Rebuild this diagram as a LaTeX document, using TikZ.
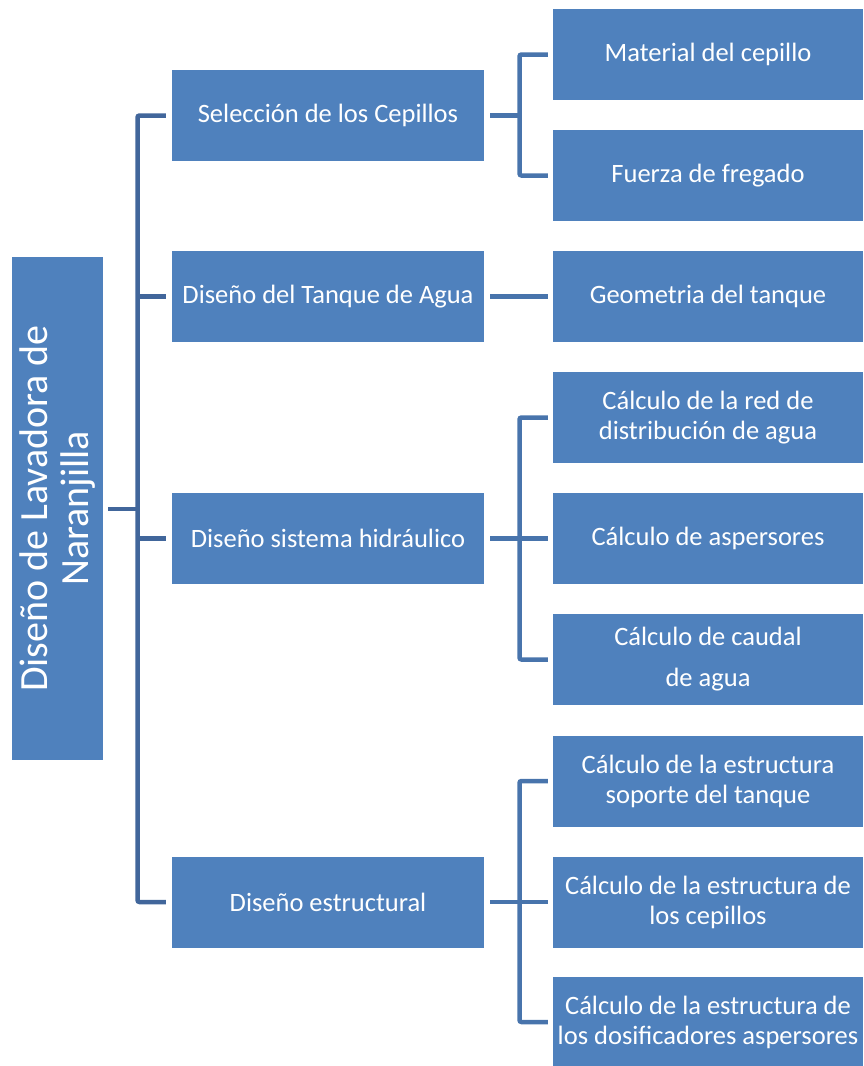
\documentclass[tikz,border=0pt]{standalone}
\usepackage{fontspec}
\setmainfont{Carlito}
\begin{document}
\begin{tikzpicture}[x=1pt,y=-1pt,
  box/.style={fill=boxblue,draw=none,text=white,align=center,inner sep=0pt,font=\fontsize{26.5}{30}\selectfont},
  lone/.style={box,minimum width=312,minimum height=91},
  ltwo/.style={box,minimum width=310,minimum height=91},
  conn/.style={draw=connA,line width=4.5pt,rounded corners=2pt},
  connb/.style={draw=connB,line width=4.5pt,rounded corners=2pt}]
\definecolor{boxblue}{HTML}{4F81BD}
\definecolor{connA}{HTML}{41669B}
\definecolor{connB}{HTML}{4874AC}
\useasboundingbox (0,0) rectangle (863,1066);
\node[box,minimum width=503,minimum height=91,rotate=90,font=\fontsize{40}{41}\selectfont] (root) at (57.5,508.5) {Diseño de Lavadora de\\Naranjilla};
\node[lone] (a) at (328,115.5) {Selección de los Cepillos};
\node[lone] (b) at (328,296.5) {Diseño del Tanque de Agua};
\node[lone] (c) at (328,538.5) {Diseño sistema hidráulico};
\node[lone] (d) at (328,902) {Diseño estructural};
\node[ltwo] (a1) at (708,54.5) {Material del cepillo};
\node[ltwo] (a2) at (708,175.5) {Fuerza de fregado};
\node[ltwo] (b1) at (708,296.5) {Geometria del tanque};
\node[ltwo] (c1) at (708,417.5) {Cálculo de la red de\\distribución de agua};
\node[ltwo] (c2) at (708,538.5) {Cálculo de aspersores};
\node[ltwo,font=\fontsize{26.5}{41}\selectfont] (c3) at (708,659.5) {Cálculo de caudal\\de agua};
\node[ltwo] (d1) at (708,781) {Cálculo de la estructura\\soporte del tanque};
\node[ltwo] (d2) at (708,902) {Cálculo de la estructura de\\los cepillos};
\node[ltwo] (d3) at (708,1022) {Cálculo de la estructura de\\los dosificadores aspersores};
% level 0 -> level 1
\coordinate (t) at (137.5,509);
\draw[conn] ([xshift=5]root.south |- t) -- (t);
\draw[conn] ([xshift=-6]a.west) -- (t |- a.west) -- (t |- d.west) -- ([xshift=-6]d.west);
\draw[conn] (t |- b.west) -- ([xshift=-6]b.west);
\draw[conn] (t |- c.west) -- ([xshift=-6]c.west);
% level 1 -> level 2
\coordinate (ua) at (519.5,115.5);
\draw[connb] ([xshift=6]a.east) -- (ua);
\draw[connb] ([xshift=-5]a1.west) -- (ua |- a1.west) -- (ua |- a2.west) -- ([xshift=-5]a2.west);
\draw[connb] ([xshift=6]b.east) -- ([xshift=-5]b1.west);
\coordinate (uc) at (519.5,538.5);
\draw[connb] ([xshift=6]c.east) -- (uc);
\draw[connb] ([xshift=-5]c1.west) -- (uc |- c1.west) -- (uc |- c3.west) -- ([xshift=-5]c3.west);
\draw[connb] (uc) -- ([xshift=-5]c2.west);
\coordinate (ud) at (519.5,902);
\draw[connb] ([xshift=6]d.east) -- (ud);
\draw[connb] ([xshift=-5]d1.west) -- (ud |- d1.west) -- (ud |- d3.west) -- ([xshift=-5]d3.west);
\draw[connb] (ud) -- ([xshift=-5]d2.west);
\end{tikzpicture}
\end{document}
